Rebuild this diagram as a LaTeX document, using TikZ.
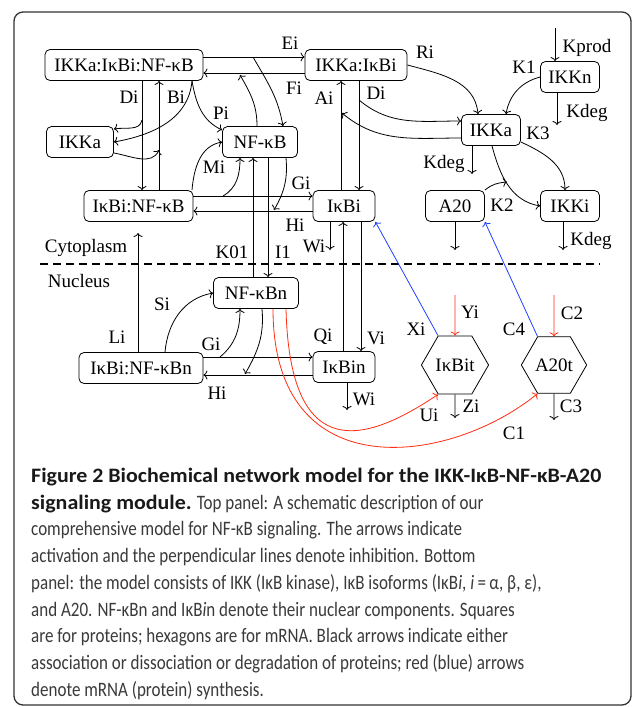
\documentclass[tikz,border=0pt]{standalone}
\usepackage{fontspec}
\setmainfont{Liberation Serif}
\newfontfamily\capfont[FakeStretch=0.83]{Carlito}
\newfontfamily\capbold[FakeStretch=1.07]{Carlito}
\usepackage{tikz}
\usetikzlibrary{arrows.meta,shapes.geometric}
\definecolor{mrnared}{HTML}{FF2C10}
\definecolor{protblue}{HTML}{2042FF}
\definecolor{framegray}{HTML}{333333}
\definecolor{captgray}{HTML}{3A3A3A}

\begin{document}
\begin{tikzpicture}[
  x=1pt, y=1pt,
  >={To[length=4pt,width=9pt]},
  every node/.style={font=\fontsize{19}{22}\selectfont},
  box/.style={draw, rounded corners=5pt, line width=0.8pt, minimum height=31pt,
              inner xsep=2pt, inner ysep=0pt},
  hexa/.style={draw, line width=0.8pt, regular polygon, regular polygon sides=6,
               minimum size=58pt, inner sep=1pt},
  lbl/.style={inner sep=0pt},
  conn/.style={->, line width=0.8pt},
  rsyn/.style={conn, draw=mrnared},
  bsyn/.style={conn, draw=protblue},
  capt/.style={anchor=north west, inner sep=0pt, align=left, text=captgray,
               font=\capfont\fontsize{20.5}{26.7}\selectfont},
]
\useasboundingbox (0,0) rectangle (633,-707);
\draw[framegray, line width=1.3pt, rounded corners=9pt] (14,-12) rectangle (631,-705);

\node[box, minimum width=158pt] (tri) at (124,-65) {IKKa:IκBi:NF-κB};
\node[box, minimum width=67pt] (ikkc) at (80,-142) {IKKa};
\node[box, minimum width=75pt] (nfkb) at (260,-142) {NF-κB};
\node[box, minimum width=109pt] (ibnf) at (138.5,-206) {IκBi:NF-κB};
\node[box, minimum width=102pt] (ikkib) at (356,-65) {IKKa:IκBi};
\node[box, minimum width=59pt] (ikkn) at (570,-77) {IKKn};
\node[box, minimum width=59pt] (ikka) at (491,-130) {IKKa};
\node[box, minimum width=62pt] (ikbi) at (344,-206) {IκBi};
\node[box, minimum width=59pt] (atw) at (455,-206) {A20};
\node[box, minimum width=59pt] (ikki) at (570,-206) {IKKi};
\node[box, minimum width=85pt] (nfkbn) at (256,-293) {NF-κBn};
\node[box, minimum width=124pt] (ibnfn) at (141,-368) {IκBi:NF-κBn};
\node[box, minimum width=62pt] (ikbin) at (344,-367) {IκBin};
\node[hexa] (ikbit) at (455,-365) {IκBit};
\node[hexa] (atwt) at (554,-365) {A20t};

\coordinate (eiFork) at (253,-57);
\coordinate (fiJoin) at (240,-75);
\coordinate (diFork) at (142,-120);
\coordinate (biJoin) at (159,-150);
\coordinate (giFork) at (223,-196);
\coordinate (hiJoin) at (274,-210);
\coordinate (diFork2) at (359,-100);
\coordinate (aiJoin) at (342,-113);
\coordinate (k2Join) at (507,-182);
\coordinate (kprodIn) at (555,-28);
\coordinate (degN) at (557,-125);
\coordinate (degA) at (472,-174);
\coordinate (degI) at (563,-250);
\coordinate (degT) at (455,-250);
\coordinate (wiOut) at (330,-250);
\coordinate (liOut) at (138,-233);
\coordinate (giForkN) at (220,-357);
\coordinate (hiJoinN) at (245,-374);
\coordinate (wiOutN) at (347,-410);
\coordinate (yiIn) at (455,-295);
\coordinate (ctwoIn) at (554,-295);
\coordinate (ziOut) at (455,-418);
\coordinate (cthreeOut) at (554,-420);

\draw[conn] (tri.east |- eiFork) -- (ikkib.west |- eiFork);
\draw[conn] (eiFork) to[out=-60,in=100] (nfkb.north -| 283,0);
\draw[conn] (ikkib.west |- 0,-73) -- (tri.east |- 0,-73);
\draw[conn] (nfkb.north -| 257,0) to[out=90,in=-60] (fiJoin);
\draw[conn] (tri.south -| diFork) -- (ibnf.north -| diFork);
\draw[conn] (diFork) to[out=-100,in=10] (ikkc.east |- 0,-129);
\draw[conn] (ibnf.north -| biJoin) -- (tri.south -| biJoin);
\draw[conn] (ikkc.east |- 0,-153) to[out=-10,in=-115] (biJoin);
\draw[conn] (tri.south -| 192,0) to[out=-95,in=10] (ikkc.east |- 0,-142);
\draw[conn] (tri.south -| 192,0) to[out=-80,in=155] (nfkb.west |- 0,-130);
\draw[conn] (ibnf.north -| 192,0) to[out=85,in=190] (nfkb.west |- 0,-142);
\draw[conn] (ibnf.east |- giFork) -- (ikbi.west |- giFork);
\draw[conn] (giFork) to[out=30,in=-90] (nfkb.south -| 240,0);
\draw[conn] (ikbi.west |- 0,-211) -- (ibnf.east |- 0,-211);
\draw[conn] (nfkb.south -| 286,0) to[out=-85,in=60] (hiJoin);
\draw[conn] (nfkbn.north -| 253,0) -- (nfkb.south -| 253,0);
\draw[conn] (nfkb.south -| 268,0) -- (nfkbn.north -| 268,0);

\draw[conn] (ikbi.north -| 341,0) -- (ikkib.south -| 341,0);
\draw[conn] (ikkib.south -| diFork2) -- (ikbi.north -| diFork2);
\draw[conn] (diFork2) to[out=-40,in=180] (ikka.west |- 0,-121);
\draw[conn] (ikka.west |- 0,-138) to[out=180,in=-40] (aiJoin);
\draw[conn] (ikkib.east) to[out=-15,in=95] (ikka.north -| 478,0);
\draw[conn] (ikkn.west) to[out=195,in=80] (ikka.north -| 506,0);
\draw[conn] (kprodIn) -- (ikkn.north -| kprodIn);
\draw[conn] (ikkn.south -| degN) -- (degN);
\draw[conn] (ikka.east |- 0,-142) to[out=-25,in=90] (ikki.north -| 565,0);
\draw[conn] (ikka.south -| 492,0) to[out=-75,in=170] (ikki.west);
\draw[conn] (atw.north east) to[out=40,in=185] (k2Join);
\draw[conn] (ikka.south -| degA) -- (degA);
\draw[conn] (ikki.south -| degI) -- (degI);
\draw[conn] (atw.south) -- (degT);
\draw[conn] (ikbi.south -| wiOut) -- (wiOut);
\draw[conn] (ikbin.north -| 343,0) -- (ikbi.south -| 343,0);
\draw[conn] (ikbi.south -| 361,0) -- (ikbin.north -| 361,0);

\draw[line width=1.6pt, dash pattern=on 8pt off 5pt] (40,-264) -- (600,-264);

\draw[conn] (ibnfn.north -| liOut) -- (liOut);
\draw[conn] (ibnfn.north -| 165,0) to[out=85,in=190] (nfkbn.west);
\draw[conn] (ibnfn.east |- giForkN) -- (ikbin.west |- giForkN);
\draw[conn] (giForkN) to[out=40,in=-90] (nfkbn.south -| 240,0);
\draw[conn] (ikbin.west |- 0,-375) -- (ibnfn.east |- 0,-375);
\draw[conn] (nfkbn.south -| 262,0) to[out=-85,in=60] (hiJoinN);
\draw[conn] (ikbin.south -| wiOutN) -- (wiOutN);

\draw[rsyn] (nfkbn.south -| 286,0) .. controls (290,-470) and (370,-440) .. (ikbit.240);
\draw[rsyn] (nfkbn.south -| 273,0) .. controls (273,-490) and (450,-465) .. (atwt.240);
\draw[rsyn] (yiIn) -- (ikbit.north);
\draw[rsyn] (ctwoIn) -- (atwt.north);
\draw[conn] (ikbit.south) -- (ziOut);
\draw[conn] (atwt.south) -- (cthreeOut);
\draw[bsyn] (ikbit.120) -- (ikbi.south east);
\draw[bsyn] (atwt.120) -- (atw.south east);

\node[lbl] (lEi) at (290,-43) {Ei};
\node[lbl] (lFi) at (294,-88) {Fi};
\node[lbl] (lDi) at (129,-97) {Di};
\node[lbl] (lBi) at (176,-97) {Bi};
\node[lbl] (lPi) at (221,-113) {Pi};
\node[lbl] (lMi) at (214,-167) {Mi};
\node[lbl] (lGi) at (301,-183) {Gi};
\node[lbl] (lHi) at (295,-225) {Hi};
\node[lbl] (lKzo) at (232,-252) {K01};
\node[lbl] (lIo) at (283,-252) {I1};
\node[lbl] (lWi) at (314,-246) {Wi};
\node[lbl] (lAi) at (324,-98) {Ai};
\node[lbl] (lDiR) at (376,-93) {Di};
\node[lbl] (lRi) at (425,-52) {Ri};
\node[lbl] (lKo) at (524,-67) {K1};
\node[lbl] (lKprod) at (587,-48) {Kprod};
\node[lbl] (lKdegN) at (587,-113) {Kdeg};
\node[lbl] (lKt) at (538,-133) {K3};
\node[lbl] (lKdegA) at (444,-164) {Kdeg};
\node[lbl] (lKtw) at (502,-205) {K2};
\node[lbl] (lKdegI) at (591,-241) {Kdeg};
\node[lbl] (lCyto) at (86,-248) {Cytoplasm};
\node[lbl] (lNuc) at (79,-281) {Nucleus};
\node[lbl] (lSi) at (162,-304) {Si};
\node[lbl] (lLi) at (117,-337) {Li};
\node[lbl] (lGiN) at (211,-344) {Gi};
\node[lbl] (lHiN) at (217,-393) {Hi};
\node[lbl] (lQi) at (323,-337) {Qi};
\node[lbl] (lVi) at (376,-338) {Vi};
\node[lbl] (lWiN) at (364,-399) {Wi};
\node[lbl] (lXi) at (416,-329) {Xi};
\node[lbl] (lYi) at (470,-312) {Yi};
\node[lbl] (lCf) at (514,-329) {C4};
\node[lbl] (lCt) at (572,-313) {C2};
\node[lbl] (lUi) at (429,-415) {Ui};
\node[lbl] (lZi) at (471,-406) {Zi};
\node[lbl] (lCo) at (514,-433) {C1};
\node[lbl] (lCth) at (571,-406) {C3};

\node[capt] (caption) at (31,-468) {%
{\capbold\bfseries\color{black!90}Figure 2 Biochemical network model for the IKK-IκB-NF-κB-A20}\\
{\capbold\bfseries\color{black!90}signaling module.} Top panel: A schematic description of our\\
comprehensive model for NF-κB signaling. The arrows indicate\\
activation and the perpendicular lines denote inhibition. Bottom\\
panel: the model consists of IKK (IκB kinase), IκB isoforms (IκB\textit{i}, \textit{i}\,=\,α, β, ε),\\
and A20. NF-κBn and IκB\textit{i}n denote their nuclear components. Squares\\
are for proteins; hexagons are for mRNA. Black arrows indicate either\\
association or dissociation or degradation of proteins; red (blue) arrows\\
denote mRNA (protein) synthesis.};
\end{tikzpicture}
\end{document}
